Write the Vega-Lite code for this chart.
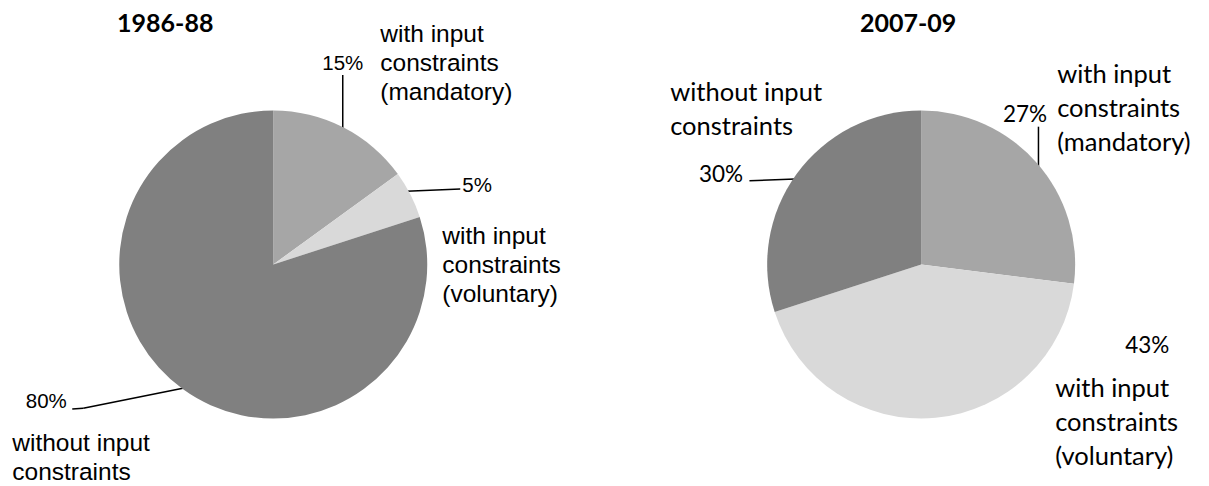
{
  "$schema": "https://vega.github.io/schema/vega-lite/v6.json",
  "width": 1209,
  "height": 443,
  "padding": {"top": 43, "left": 0, "right": 0, "bottom": 0},
  "autosize": {"type": "none"},
  "background": "white",
  "config": {"view": {"stroke": null}},
  "data": {
    "values": [
      {"period": "1986-88", "category": "with input\nconstraints\n(mandatory)", "share": 0.15},
      {"period": "1986-88", "category": "with input\nconstraints\n(voluntary)", "share": 0.05},
      {"period": "1986-88", "category": "without input\nconstraints", "share": 0.80},
      {"period": "2007-09", "category": "with input\nconstraints\n(mandatory)", "share": 0.27},
      {"period": "2007-09", "category": "with input\nconstraints\n(voluntary)", "share": 0.43},
      {"period": "2007-09", "category": "without input\nconstraints", "share": 0.30}
    ]
  },
  "encoding": {
    "x": {"field": "period", "type": "nominal", "scale": {"type": "point", "domain": ["1986-88", "2007-09"], "padding": 0.433, "align": 0.487}, "axis": null}
  },
  "layer": [
    {
      "transform": [{"filter": "datum.period === '1986-88' && indexof(datum.category, 'mandatory') >= 0"}],
      "mark": {"type": "rule", "color": "black", "strokeWidth": 1.5, "xOffset": 69.5, "x2Offset": 69.5, "yOffset": -189.5, "y2Offset": -130},
      "encoding": {"x2": {"field": "period"}, "y": {"datum": 0, "type": "quantitative", "scale": {"domain": [-1, 1]}, "axis": null}, "y2": {"datum": 0}}
    },
    {
      "transform": [{"filter": "datum.period === '1986-88' && indexof(datum.category, 'voluntary') >= 0"}],
      "mark": {"type": "rule", "color": "black", "strokeWidth": 1.5, "xOffset": 127, "x2Offset": 187, "yOffset": -73, "y2Offset": -75.5},
      "encoding": {"x2": {"field": "period"}, "y": {"datum": 0, "type": "quantitative", "scale": {"domain": [-1, 1]}, "axis": null}, "y2": {"datum": 0}}
    },
    {
      "transform": [{"filter": "datum.period === '1986-88' && indexof(datum.category, 'without') >= 0"}],
      "mark": {"type": "rule", "color": "black", "strokeWidth": 1.5, "xOffset": -201, "x2Offset": -190, "yOffset": 144.5, "y2Offset": 143.8},
      "encoding": {"x2": {"field": "period"}, "y": {"datum": 0, "type": "quantitative", "scale": {"domain": [-1, 1]}, "axis": null}, "y2": {"datum": 0}}
    },
    {
      "transform": [{"filter": "datum.period === '1986-88' && indexof(datum.category, 'without') >= 0"}],
      "mark": {"type": "rule", "color": "black", "strokeWidth": 1.5, "xOffset": -190, "x2Offset": -73, "yOffset": 143.8, "y2Offset": 120.2},
      "encoding": {"x2": {"field": "period"}, "y": {"datum": 0, "type": "quantitative", "scale": {"domain": [-1, 1]}, "axis": null}, "y2": {"datum": 0}}
    },
    {
      "transform": [{"filter": "datum.period === '2007-09' && indexof(datum.category, 'mandatory') >= 0"}],
      "mark": {"type": "rule", "color": "black", "strokeWidth": 1.5, "xOffset": 117.3, "x2Offset": 117.3, "yOffset": -137.8, "y2Offset": -79.5},
      "encoding": {"x2": {"field": "period"}, "y": {"datum": 0, "type": "quantitative", "scale": {"domain": [-1, 1]}, "axis": null}, "y2": {"datum": 0}}
    },
    {
      "transform": [{"filter": "datum.period === '2007-09' && indexof(datum.category, 'without') >= 0"}],
      "mark": {"type": "rule", "color": "black", "strokeWidth": 1.5, "xOffset": -171.7, "x2Offset": -106, "yOffset": -83.8, "y2Offset": -86.3},
      "encoding": {"x2": {"field": "period"}, "y": {"datum": 0, "type": "quantitative", "scale": {"domain": [-1, 1]}, "axis": null}, "y2": {"datum": 0}}
    },
    {
      "transform": [{"filter": "datum.period === '1986-88'"}],
      "mark": {"type": "arc", "outerRadius": 154},
      "encoding": {
        "theta": {"field": "share", "type": "quantitative", "stack": true},
        "color": {"field": "category", "type": "nominal", "scale": {"domain": ["with input\nconstraints\n(mandatory)", "with input\nconstraints\n(voluntary)", "without input\nconstraints"], "range": ["#a6a6a6", "#d9d9d9", "#808080"]}, "legend": null},
        "order": {"field": "category", "type": "ordinal", "sort": "ascending"}
      }
    },
    {
      "transform": [{"filter": "datum.period === '2007-09'"}],
      "mark": {"type": "arc", "outerRadius": 154},
      "encoding": {
        "theta": {"field": "share", "type": "quantitative", "stack": true},
        "color": {"field": "category", "type": "nominal", "scale": {"domain": ["with input\nconstraints\n(mandatory)", "with input\nconstraints\n(voluntary)", "without input\nconstraints"], "range": ["#a6a6a6", "#d9d9d9", "#808080"]}, "legend": null},
        "order": {"field": "category", "type": "ordinal", "sort": "ascending"}
      }
    },
    {
      "transform": [{"filter": "datum.period === '1986-88' && indexof(datum.category, 'mandatory') >= 0"}],
      "mark": {"type": "text", "font": "Lato", "fontWeight": "bold", "fontSize": 25, "color": "black", "align": "center", "baseline": "alphabetic", "dx": -108, "dy": -232.5},
      "encoding": {"text": {"field": "period"}}
    },
    {
      "transform": [{"filter": "datum.period === '2007-09' && indexof(datum.category, 'mandatory') >= 0"}],
      "mark": {"type": "text", "font": "Lato", "fontWeight": "bold", "fontSize": 25, "color": "black", "align": "center", "baseline": "alphabetic", "dx": -13, "dy": -232.5},
      "encoding": {"text": {"field": "period"}}
    },
    {
      "transform": [{"filter": "datum.period === '1986-88' && indexof(datum.category, 'mandatory') >= 0"}],
      "mark": {"type": "text", "font": "Liberation Sans", "fontSize": 20.5, "color": "black", "align": "center", "baseline": "alphabetic", "dx": 69.5, "dy": -194.5},
      "encoding": {"text": {"field": "share", "type": "quantitative", "format": ".0%"}}
    },
    {
      "transform": [{"filter": "datum.period === '1986-88' && indexof(datum.category, 'voluntary') >= 0"}],
      "mark": {"type": "text", "font": "Liberation Sans", "fontSize": 20.5, "color": "black", "align": "left", "baseline": "alphabetic", "dx": 189, "dy": -72.5},
      "encoding": {"text": {"field": "share", "type": "quantitative", "format": ".0%"}}
    },
    {
      "transform": [{"filter": "datum.period === '1986-88' && indexof(datum.category, 'without') >= 0"}],
      "mark": {"type": "text", "font": "Liberation Sans", "fontSize": 20.5, "color": "black", "align": "center", "baseline": "alphabetic", "dx": -227, "dy": 143.5},
      "encoding": {"text": {"field": "share", "type": "quantitative", "format": ".0%"}}
    },
    {
      "transform": [{"filter": "datum.period === '1986-88' && indexof(datum.category, 'mandatory') >= 0"}],
      "mark": {"type": "text", "font": "Liberation Sans", "fontSize": 24.5, "lineHeight": 29, "lineBreak": "\n", "color": "black", "align": "left", "baseline": "top", "dx": 107, "dy": -241.9},
      "encoding": {"text": {"field": "category"}}
    },
    {
      "transform": [{"filter": "datum.period === '1986-88' && indexof(datum.category, 'voluntary') >= 0"}],
      "mark": {"type": "text", "font": "Liberation Sans", "fontSize": 24.5, "lineHeight": 29, "lineBreak": "\n", "color": "black", "align": "left", "baseline": "top", "dx": 169, "dy": -39.9},
      "encoding": {"text": {"field": "category"}}
    },
    {
      "transform": [{"filter": "datum.period === '1986-88' && indexof(datum.category, 'without') >= 0"}],
      "mark": {"type": "text", "font": "Liberation Sans", "fontSize": 24.5, "lineHeight": 29, "lineBreak": "\n", "color": "black", "align": "left", "baseline": "top", "dx": -261, "dy": 167.5},
      "encoding": {"text": {"field": "category"}}
    },
    {
      "transform": [{"filter": "datum.period === '2007-09' && indexof(datum.category, 'mandatory') >= 0"}],
      "mark": {"type": "text", "font": "Lato", "fontSize": 22.5, "color": "black", "align": "right", "baseline": "alphabetic", "dx": 126, "dy": -142.8},
      "encoding": {"text": {"field": "share", "type": "quantitative", "format": ".0%"}}
    },
    {
      "transform": [{"filter": "datum.period === '2007-09' && indexof(datum.category, 'without') >= 0"}],
      "mark": {"type": "text", "font": "Lato", "fontSize": 22.5, "color": "black", "align": "right", "baseline": "alphabetic", "dx": -178, "dy": -82.8},
      "encoding": {"text": {"field": "share", "type": "quantitative", "format": ".0%"}}
    },
    {
      "transform": [{"filter": "datum.period === '2007-09' && indexof(datum.category, 'voluntary') >= 0"}],
      "mark": {"type": "text", "font": "Lato", "fontSize": 22.5, "color": "black", "align": "left", "baseline": "alphabetic", "dx": 204, "dy": 88.8},
      "encoding": {"text": {"field": "share", "type": "quantitative", "format": ".0%"}}
    },
    {
      "transform": [{"filter": "datum.period === '2007-09' && indexof(datum.category, 'mandatory') >= 0"}],
      "mark": {"type": "text", "font": "Lato", "fontSize": 25.5, "lineHeight": 34, "lineBreak": "\n", "color": "black", "align": "left", "baseline": "top", "dx": 136, "dy": -201.6},
      "encoding": {"text": {"field": "category"}}
    },
    {
      "transform": [{"filter": "datum.period === '2007-09' && indexof(datum.category, 'without') >= 0"}],
      "mark": {"type": "text", "font": "Lato", "fontSize": 25.5, "lineHeight": 34, "lineBreak": "\n", "color": "black", "align": "left", "baseline": "top", "dx": -251, "dy": -183.6},
      "encoding": {"text": {"field": "category"}}
    },
    {
      "transform": [{"filter": "datum.period === '2007-09' && indexof(datum.category, 'voluntary') >= 0"}],
      "mark": {"type": "text", "font": "Lato", "fontSize": 25.5, "lineHeight": 34, "lineBreak": "\n", "color": "black", "align": "left", "baseline": "top", "dx": 134, "dy": 112.4},
      "encoding": {"text": {"field": "category"}}
    }
  ]
}
